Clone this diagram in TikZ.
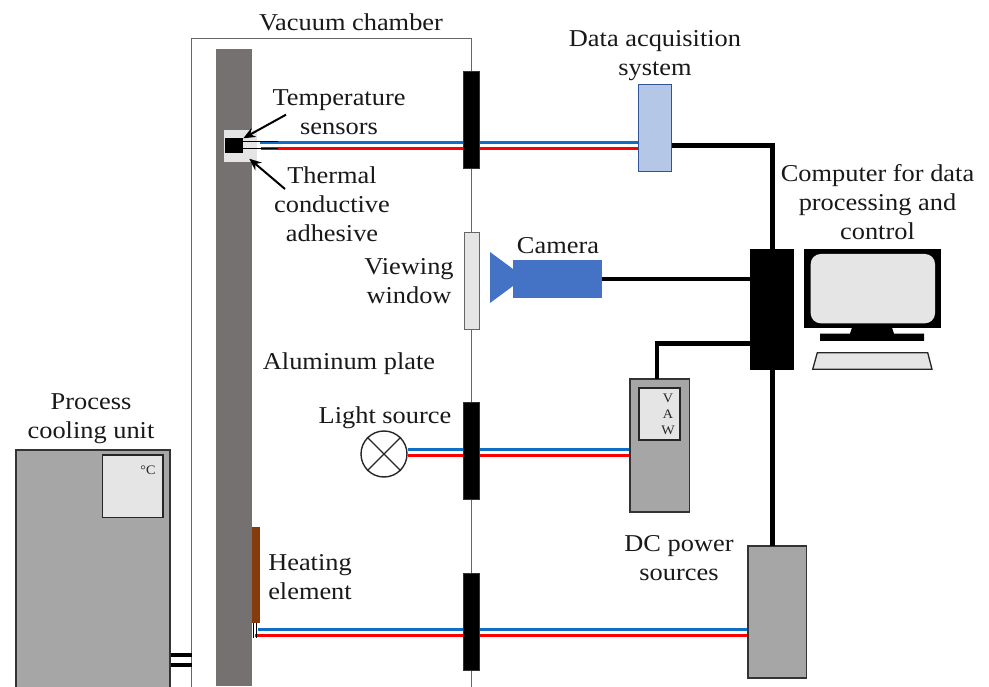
\documentclass[tikz,border=0pt]{standalone}
\usepackage{fontspec}
\setmainfont[FakeStretch=1.09]{Liberation Serif}
\definecolor{plategray}{HTML}{767171}
\definecolor{boxgray}{HTML}{A6A6A6}
\definecolor{lightg}{HTML}{E5E5E5}
\definecolor{wireblue}{HTML}{0F6FC6}
\definecolor{wirered}{HTML}{FF0000}
\definecolor{cam}{HTML}{4472C4}
\definecolor{daq}{HTML}{B4C7E7}
\definecolor{daqb}{HTML}{2F5597}
\definecolor{heater}{HTML}{843C0C}
\usetikzlibrary{arrows.meta,calc}
\tikzset{
  x=1pt,y=-1pt,
  lbl/.style={font=\fontsize{24.2}{29}\selectfont,align=center,text=black!90,inner sep=0pt},
  small/.style={font=\fontsize{13}{16}\selectfont,align=center,text=black!85,inner sep=0pt},
  thru/.style={fill=black,draw=black!80,line width=.5pt,minimum width=16pt,minimum height=97pt,inner sep=0},
  bw/.style={wireblue,line width=3.2pt},
  rw/.style={wirered,line width=3.2pt},
  cable/.style={black,line width=4.5pt},
  thinw/.style={black,line width=1.2pt},
  dev/.style={fill=boxgray,draw=black!80,line width=1.5pt,inner sep=0},
  screen/.style={fill=lightg,draw=black!85,line width=1.5pt,inner sep=0},
  pointer/.style={black,line width=2pt,-{Stealth[length=12pt,width=10pt]}}
}
\begin{document}
\begin{tikzpicture}
\useasboundingbox (0,0) rectangle (989,687);
\fill[white] (0,0) rectangle (989,687);
% chamber
\draw[black!60,line width=1pt] (191.5,687) -- (191.5,38.5) -- (471.5,38.5) -- (471.5,687);
% plate
\fill[plategray] (216,49) rectangle (251.7,686);
\fill[heater] (251.7,527) rectangle (260,623.3);
% adhesive and sensor
\fill[lightg] (224.3,130) rectangle (257,162);
\node[fill=black,inner sep=0,minimum width=18.5pt,minimum height=14.4pt] (sensor) at (233.8,145.5) {};
% devices reached by wires
\node[fill=daq,draw=daqb,line width=1.2pt,minimum width=33pt,minimum height=86.5pt,inner sep=0] (daqbox) at (655,128) {};
\node[fill=black,minimum width=44pt,minimum height=121pt,inner sep=0] (hub) at (772,310) {};
\node[dev,minimum width=58.5pt,minimum height=132pt] (load) at (777.3,611.8) {};
\node[dev,minimum width=59.5pt,minimum height=133pt] (dc) at (659.5,445.5) {};
\node[screen,minimum width=41pt,minimum height=52pt] (dcs) at (659.5,414) {};
\node[small,anchor=north] at (668,394) {V\\A\\W};
\node[circle,draw=black!85,line width=1.4pt,fill=white,minimum size=46pt,inner sep=0] (lamp) at (384,454) {};
\draw[black!85,line width=1.4pt] (lamp.45) -- (lamp.225) (lamp.135) -- (lamp.315);
% sensor wires
\draw[bw] (260,142.4) -- (260,142.4 -| daqbox.west);
\draw[rw] (261,148.6) -- (261,148.6 -| daqbox.west);
\draw[thinw] (sensor.east |- 0,141.3) -- (278,141.3);
\draw[thinw] (sensor.east |- 0,148.3) -- (278,148.3);
% lamp wires
\draw[bw] (lamp.east |- 0,449.5) -- (dc.west |- 0,449.5);
\draw[rw] (lamp.east |- 0,455.7) -- (dc.west |- 0,455.7);
% heater wires
\draw[bw] (258,629.8) -- (load.west |- 0,629.8);
\draw[rw] (255,635.8) -- (load.west |- 0,635.8);
\draw[black,line width=.9pt] (253.7,623) -- (253.7,638) (256.3,623) -- (256.3,638);
% feedthroughs
\node[thru] (f1) at (471.5,119.5) {};
\node[thru] (f2) at (471.5,451) {};
\node[thru] (f3) at (471.5,621.5) {};
\node[fill=lightg,draw=black!60,line width=1pt,minimum width=15.5pt,minimum height=97.5pt,inner sep=0] (win) at (472,280.8) {};
% cables
\draw[cable] (daqbox.east |- 0,145.3) -- (772.7,145.3) -- (772.7,250);
\draw[cable] (772.7,370) -- (772.7,546);
% camera
\node[fill=cam,minimum width=89pt,minimum height=38.5pt,inner sep=0] (camb) at (557.5,278.8) {};
\fill[cam] (513,269) -- (490,252) -- (490,303) -- (513,286) -- cycle;
\draw[cable] (camb.east) -- (camb.east -| hub.west);
% DC supply cable
\draw[cable] (657,379) -- (657,343.7) -- (750,343.7);
% monitor
\fill[black] (804.3,249) rectangle (940.7,327.7);
\fill[lightg,rounded corners=10pt] (810.7,254) rectangle (935,323.3);
\fill[black] (852,327.7) -- (892,327.7) -- (894,333.7) -- (924,333.7) -- (924,341) -- (820,341) -- (820,333.7) -- (850,333.7) -- cycle;
\draw[screen,line width=1.3pt] (817.3,352.7) -- (927.7,352.7) -- (932,369.3) -- (812.7,369.3) -- cycle;
% chiller
\node[dev,anchor=north west,minimum width=154pt,minimum height=242pt] (chill) at (15,449) {};
\node[screen,minimum width=60.5pt,minimum height=62.5pt] (chs) at (132.5,486) {};
\node[small] at (148,470) {°C};
\draw[black,line width=4pt] (chill.east |- 0,655) -- (191.5,655) (chill.east |- 0,665) -- (191.5,665);
% labels
\node[lbl] at (351,22) {Vacuum chamber};
\node[lbl] at (655,56) {Data acquisition\\system};
\node[lbl] (tl) at (339,112.5) {Temperature\\sensors};
\node[lbl] (al) at (332,204) {Thermal\\conductive\\adhesive};
\node[lbl] at (877.5,202) {Computer for data\\processing and\\control};
\node[lbl] at (558,246) {Camera};
\node[lbl] at (409,281.5) {Viewing\\window};
\node[lbl] at (349,364) {Aluminum plate};
\node[lbl] at (385,417.5) {Light source};
\node[lbl] at (91,419) {Process\\cooling unit};
\node[lbl] at (310,577.5) {Heating\\element};
\node[lbl] at (679,558.5) {DC power\\sources};
\coordinate (p1) at (286,114.7);
\coordinate (p2) at (243.3,138.3);
\coordinate (p3) at (285,189);
\coordinate (p4) at (249.3,158.7);
\draw[pointer] (p1) -- (p2);
\draw[pointer] (p3) -- (p4);
\end{tikzpicture}
\end{document}
